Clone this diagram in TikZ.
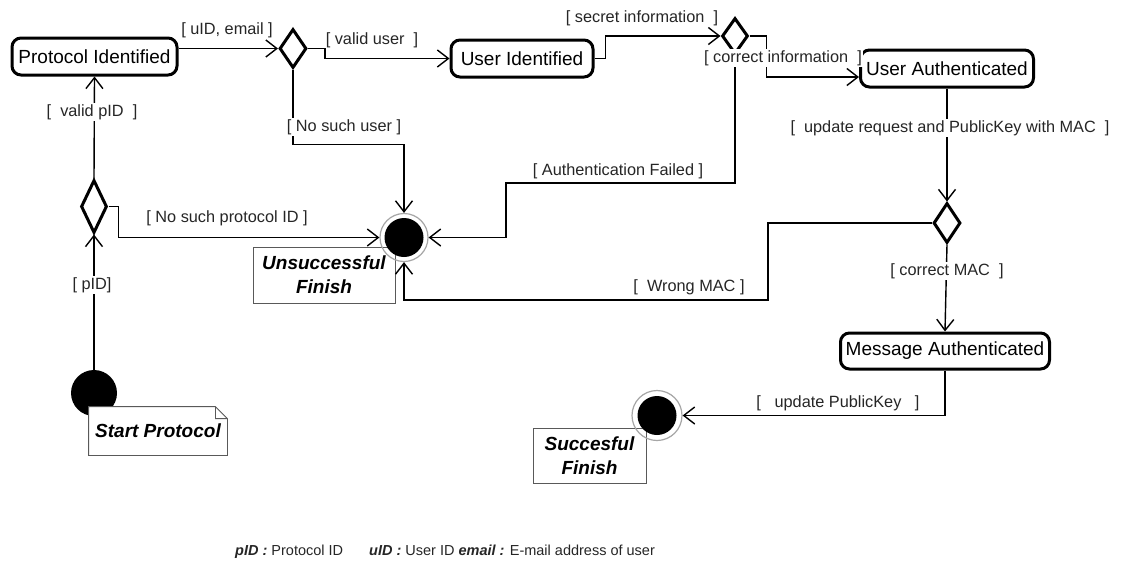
\documentclass[tikz,border=0pt]{standalone}
\usepackage{fontspec}
\setmainfont{Liberation Sans}
\usetikzlibrary{arrows.meta,positioning,shapes.geometric}
\tikzset{
  state/.style={draw, line width=3pt, rounded corners=9pt, minimum height=37pt, inner sep=2pt, font=\fontsize{19}{22}\selectfont},
  decision/.style={diamond, draw, line width=3pt, inner sep=0pt, minimum width=27pt, minimum height=40pt},
  initstate/.style={circle, fill=black, minimum size=46pt, inner sep=0pt},
  finalstate/.style={circle, draw=gray!70, line width=1.2pt, minimum size=48pt, inner sep=0pt,
    path picture={\fill (path picture bounding box.center) circle (19.5pt);}},
  flow/.style={line width=1.4pt, -{Straight Barb[length=11pt,width=17pt]}},
  guard/.style={font=\fontsize{16.3}{19}\selectfont, text=black!85, inner sep=1pt},
  onpath/.style={guard, fill=white},
  notebox/.style={draw=gray!70!black, line width=0.8pt, fill=white, inner sep=0pt, align=center,
    font=\fontsize{19}{24}\selectfont\bfseries\itshape}
}
\begin{document}
\begin{tikzpicture}[x=1pt,y=-1pt]
  \useasboundingbox[fill=white] (0,0) rectangle (1122,563);
  \node[notebox, minimum width=142pt, minimum height=56pt] (un) at (324,275) {Unsuccessful\\Finish};
  \node[notebox, minimum width=113pt, minimum height=55pt] (sn) at (589.5,455.5) {Succesful\\Finish};
  \node[finalstate] (uf) at (404,237.5) {};
  \node[finalstate, minimum size=50pt] (sf) at (657,415.5) {};
  \node[initstate] (st) at (94,393) {};
  \node[notebox, draw=none, minimum width=138pt, minimum height=48pt] (sp) at (158,431) {Start Protocol};
  \draw[gray!70!black, line width=0.8pt] (sp.north west) -- ([xshift=-12pt]sp.north east) -- ([yshift=-12pt]sp.north east) -- (sp.south east) -- (sp.south west) -- cycle
    ([xshift=-12pt]sp.north east) -- ([xshift=-12pt,yshift=-12pt]sp.north east) -- ([yshift=-12pt]sp.north east);
  \node[state, minimum width=165pt] (pi) at (94.5,56.5) {Protocol Identified};
  \node[state, minimum width=142pt] (ui) at (522,58.5) {User Identified};
  \node[state, minimum width=173pt] (ua) at (947,68.5) {User Authenticated};
  \node[state, minimum width=209pt, minimum height=36pt] (ma) at (945,351) {Message Authenticated};
  \node[decision, minimum width=26pt, minimum height=53pt] (d0) at (94,206.5) {};
  \node[decision, minimum height=39pt] (d1) at (293,48.5) {};
  \node[decision, minimum width=26pt, minimum height=36pt] (d2) at (735,36) {};
  \node[decision] (d3) at (947,223) {};

  \draw[flow] (st.north) -- (d0.south);
  \draw[flow] (d0.north) -- (pi.south);
  \draw[flow] (d0.east) -- ++(10,0) |- (uf.west);
  \draw[flow] (pi.east |- d1.west) -- (d1.west);
  \draw[flow] (d1.east) -- ++(17,0) |- (ui.west);
  \draw[flow] (d1.south) -- ++(0,75) -| (uf.north);
  \draw[flow] (ui.east) -- ++(11,0) |- (d2.west);
  \draw[flow] (d2.east) -- ++(17,0) |- ([yshift=-8.5pt]ua.west);
  \draw[flow] (d2.south) |- (506,183) |- (uf.east);
  \draw[flow] (ua.south) -- (d3.north);
  \draw[flow] (d3.west) -| (768,300) -| (uf.south);
  \draw[flow] (d3.south) -- (ma.north);
  \draw[flow] (ma.south) |- (sf.east);

  \node[onpath] (gpid) at (92,285) {[ pID]};
  \node[onpath] (gvalidpid) at (92,112) {[~ valid pID~ ]};
  \node[guard] (gnoproto) at (227,218) {[ No such protocol ID ]};
  \node[guard] (guid) at (227,30) {[ uID, email ]};
  \node[guard] (gvaliduser) at (372,40) {[ valid user~ ]};
  \node[onpath] (gnouser) at (344,127) {[ No such user ]};
  \node[guard] (gsecret) at (642,18) {[ secret information~ ]};
  \node[onpath] (gcorrinfo) at (783,58) {[ correct information~ ]};
  \node[guard] (gauthfail) at (618,171) {[ Authentication Failed ]};
  \node[onpath] (gupdreq) at (950,128) {[~ update request and PublicKey with MAC~ ]};
  \node[guard] (gwrongmac) at (689,287) {[~ Wrong MAC ]};
  \node[onpath] (gcorrmac) at (947,271) {[ correct MAC~ ]};
  \node[guard] (gupdkey) at (838,403) {[~~ update PublicKey~~ ]};

  \node[guard, font=\fontsize{14.5}{17}\selectfont, anchor=west] (legend) at (234,552) {\textbf{\textit{pID :}} Protocol ID\hspace{26pt}\textbf{\textit{uID :}} User ID\hspace{4pt}\textbf{\textit{email :}} E-mail address of user};
\end{tikzpicture}
\end{document}
